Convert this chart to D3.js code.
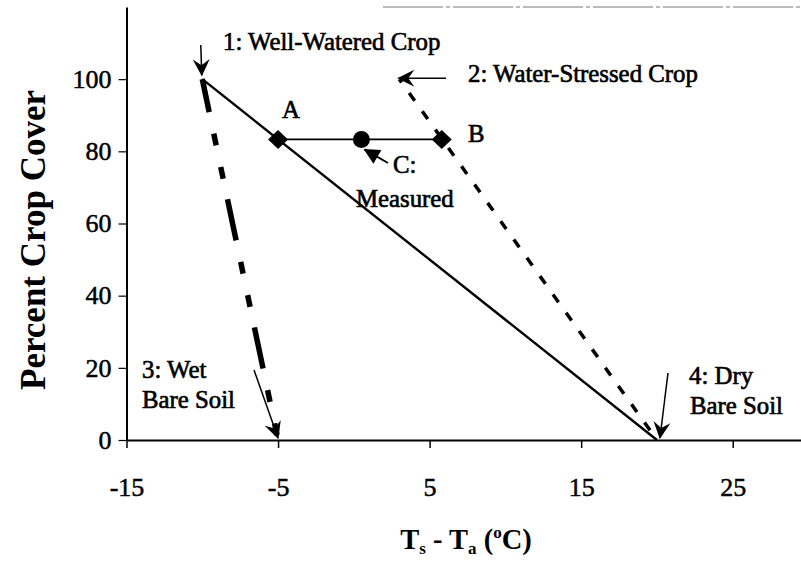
<!DOCTYPE html>
<html>
<head>
<meta charset="utf-8">
<script src="https://cdn.jsdelivr.net/npm/d3@7"></script>
<style>
  html, body { margin: 0; padding: 0; background: #fff; }
  svg { display: block; }
  svg text { font-family: "Liberation Serif", "Times New Roman", serif !important; fill: #000; }
</style>
</head>
<body>
<svg id="chart" width="801" height="562"></svg>
<script>
// ---- data ----
const xTicks = [-15, -5, 5, 15, 25];
const yTicks = [0, 20, 40, 60, 80, 100];
const xDomain = [-15, 30];
const yDomain = [0, 120];

// vertices of the trapezoid (T_s - T_a, percent cover)
const wellWatered   = [-10, 100];   // 1
const waterStressed = [3, 100];     // 2
const wetSoil       = [-5, 0];      // 3
const drySoil       = [20, 0];      // 4

// measured point and its reference points
const pointNames = ["A", "C", "B"];
const pointX = [-5, 0.5, 5.8];
const pointY = [83.3, 83.3, 83.3];

// ---- chart ----
const FONT = '"Liberation Serif", "Times New Roman", serif';
const svg = d3.select("#chart");
svg.append("rect").attr("width", 801).attr("height", 562).attr("fill", "#fff");

const x = d3.scaleLinear().domain(xDomain).range([126.5, 808.5]);
const y = d3.scaleLinear().domain(yDomain).range([440, 7]);

const defs = svg.append("defs");
defs.append("marker").attr("id", "stealth")
  .attr("viewBox", "-18 -10 20 20").attr("refX", 0).attr("refY", 0)
  .attr("markerWidth", 20).attr("markerHeight", 20)
  .attr("markerUnits", "userSpaceOnUse").attr("orient", "auto")
  .append("path").attr("d", "M1,0 L-16,-8.5 L-10,0 L-16,8.5 Z").attr("fill", "#000");
defs.append("marker").attr("id", "tri")
  .attr("viewBox", "-18 -10 20 20").attr("refX", 0).attr("refY", 0)
  .attr("markerWidth", 20).attr("markerHeight", 20)
  .attr("markerUnits", "userSpaceOnUse").attr("orient", "auto")
  .append("path").attr("d", "M1,0 L-15,-8 L-15,8 Z").attr("fill", "#000");

// faint top border (scan remnant)
svg.append("line").attr("x1", 383).attr("x2", 801).attr("y1", 7).attr("y2", 7)
  .attr("stroke", "#777").attr("stroke-width", 1.2).attr("stroke-dasharray", "60,3,4,3");

// axes
const fmt = d => String(d);
const xAxis = svg.append("g").attr("transform", `translate(0,${y(0)})`)
  .call(d3.axisBottom(x).tickValues(xTicks).tickSize(8).tickSizeOuter(0).tickFormat(fmt));
xAxis.select(".domain").attr("stroke", "#000").attr("stroke-width", 2);
xAxis.selectAll(".tick line").attr("stroke", "#000").attr("stroke-width", 1.5);
xAxis.selectAll(".tick text").attr("y", 56).attr("dy", 0)
  .attr("stroke", "#000").attr("stroke-width", 0.5)
  .style("font-size", "26px").style("font-family", FONT);

const yAxis = svg.append("g").attr("transform", `translate(${x(-15)},0)`)
  .call(d3.axisLeft(y).tickValues(yTicks).tickSize(8).tickSizeOuter(0).tickPadding(7).tickFormat(fmt));
yAxis.select(".domain").attr("stroke", "#000").attr("stroke-width", 2);
yAxis.selectAll(".tick line").attr("stroke", "#000").attr("stroke-width", 1.2);
yAxis.selectAll(".tick text").attr("stroke", "#000").attr("stroke-width", 0.5)
  .style("font-size", "26px").style("font-family", FONT);

// axis titles
svg.append("text").attr("transform", "translate(45,240) rotate(-90)")
  .attr("text-anchor", "middle").style("font-size", "35px").style("font-weight", "bold")
  .style("font-family", FONT).text("Percent Crop Cover");

const xt = svg.append("text").attr("x", 466).attr("y", 549).attr("text-anchor", "middle")
  .style("font-size", "28.5px").style("font-weight", "bold").style("font-family", FONT);
xt.append("tspan").text("T");
xt.append("tspan").attr("dy", 5).style("font-size", "17px").text("s");
xt.append("tspan").attr("dy", -5).text(" - T");
xt.append("tspan").attr("dy", 5).style("font-size", "17px").text("a");
xt.append("tspan").attr("dy", -5).text(" (");
xt.append("tspan").attr("dy", -11).style("font-size", "17px").text("o");
xt.append("tspan").attr("dy", 11).text("C)");

// edges
const line = d3.line().x(d => x(d[0])).y(d => y(d[1]));

// dry edge (well-watered -> dry bare soil), solid
svg.append("path").attr("d", line([wellWatered, drySoil]))
  .attr("fill", "none").attr("stroke", "#000").attr("stroke-width", 2.4);

// wet edge (well-watered -> wet bare soil), dash-dot-dot
svg.append("path").attr("d", line([wellWatered, wetSoil]))
  .attr("fill", "none").attr("stroke", "#000").attr("stroke-width", 5.5)
  .attr("stroke-dasharray", "42,22,12,22,12,21").attr("stroke-dashoffset", 8.3);

// water-stressed -> dry bare soil, dashed
svg.append("path").attr("d", line([waterStressed, drySoil]))
  .attr("fill", "none").attr("stroke", "#000").attr("stroke-width", 3.5)
  .attr("stroke-dasharray", "9.5,13").attr("stroke-dashoffset", 5.5);

// A - B segment
svg.append("path").attr("d", line([[pointX[0], pointY[0]], [pointX[2], pointY[2]]]))
  .attr("fill", "none").attr("stroke", "#000").attr("stroke-width", 1.8);

// markers
pointNames.forEach((n, i) => {
  const px = x(pointX[i]), py = y(pointY[i]);
  if (n === "C") {
    svg.append("circle").attr("cx", px).attr("cy", py).attr("r", 8.5).attr("fill", "#000");
  } else {
    svg.append("path").attr("d", `M${px},${py - 9.5} L${px + 10},${py} L${px},${py + 9.5} L${px - 10},${py} Z`)
      .attr("fill", "#000");
  }
});

// annotation arrows
function arrow(x1, y1, x2, y2, mk, w) {
  svg.append("line").attr("x1", x1).attr("y1", y1).attr("x2", x2).attr("y2", y2)
    .attr("stroke", "#000").attr("stroke-width", w || 1.5).attr("marker-end", `url(#${mk})`);
}
arrow(x(wellWatered[0]) - 1.5, 45, x(wellWatered[0]) - 0.5, y(wellWatered[1]) - 4, "stealth");
arrow(446, y(waterStressed[1]) - 1, x(waterStressed[0]) - 1, y(waterStressed[1]) - 1, "stealth");
arrow(254, 370, x(wetSoil[0]), y(wetSoil[1]) - 2, "stealth");
arrow(668, 373, x(drySoil[0]) + 3, y(drySoil[1]) - 2, "stealth");
arrow(388, 163, x(pointX[1]) + 3, y(pointY[1]) + 10, "tri", 2);

// annotation text
function label(t, tx, ty) {
  svg.append("text").attr("x", tx).attr("y", ty).style("font-size", "24.8px")
    .style("font-family", FONT)
    .attr("stroke", "#000").attr("stroke-width", 0.65).text(t);
}
label("1: Well-Watered Crop", 223, 50);
label("2: Water-Stressed Crop", 468, 82);
label("A", 282, 118);
label("B", 468, 142);
label("C:", 393, 173);
label("Measured", 356, 207);
label("3: Wet", 142, 378);
label("Bare Soil", 142, 408);
label("4: Dry", 689, 384);
label("Bare Soil", 690, 414);
</script>
</body>
</html>
